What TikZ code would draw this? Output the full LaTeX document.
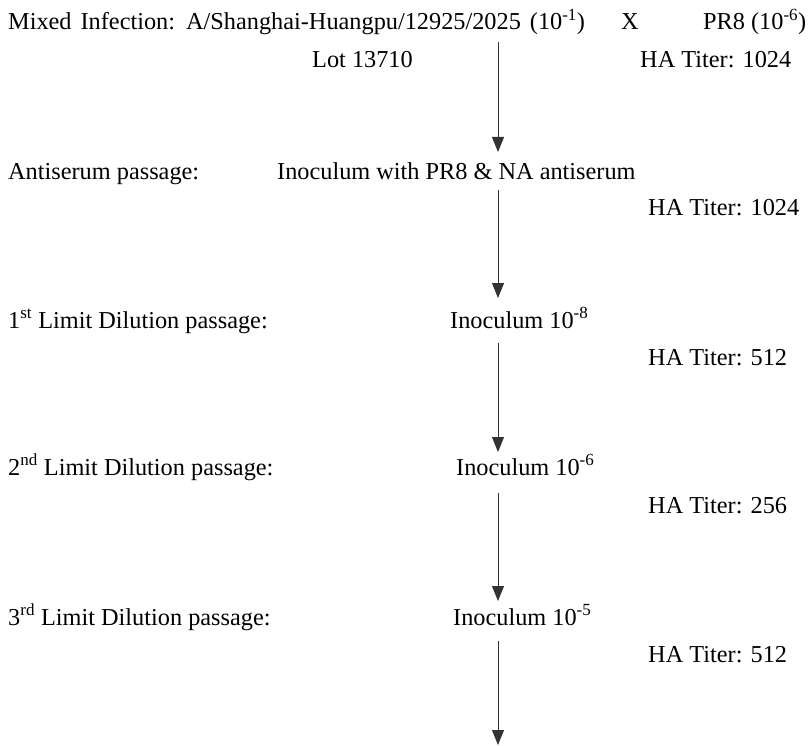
\documentclass[tikz,border=0pt]{standalone}
\usepackage{fontspec}
\setmainfont{Liberation Serif}
\usetikzlibrary{arrows.meta}
\begin{document}
\begin{tikzpicture}[x=1pt,y=-1pt,
  lbl/.style={anchor=base west,inner sep=0pt,font=\fontsize{24.3}{28}\selectfont},
  flow/.style={draw=black!80,line width=0.9pt,-{Triangle[length=15pt,width=12pt]}}]
\useasboundingbox (0,0) rectangle (808,746);
% top rows
\node[lbl] (title) at (8,30) {\spaceskip=9pt plus 1pt\relax Mixed Infection: A/Shanghai-Huangpu/12925/2025 (10\textsuperscript{-1})};
\node[lbl] (cross) at (621,30) {X};
\node[lbl] (pr8) at (703,30) {PR8 (10\textsuperscript{-6})};
\node[lbl] (lot) at (312,68) {Lot 13710};
\node[lbl] (ha1) at (640,68) {HA Titer: 1024};
% antiserum
\node[lbl] (antilbl) at (8,180) {Antiserum passage:};
\node[lbl] (anti) at (277,180) {Inoculum with PR8 \& NA antiserum};
\node[lbl] (ha2) at (648,215) {HA Titer: 1024};
% 1st
\node[lbl] (l1lbl) at (8,328) {1\textsuperscript{st} Limit Dilution passage:};
\node[lbl] (in1) at (450,328) {Inoculum 10\textsuperscript{-8}};
\node[lbl] (ha3) at (648,365) {HA Titer: 512};
% 2nd
\node[lbl] (l2lbl) at (8,475) {2\textsuperscript{nd} Limit Dilution passage:};
\node[lbl] (in2) at (456,475) {Inoculum 10\textsuperscript{-6}};
\node[lbl] (ha4) at (648,513) {HA Titer: 256};
% 3rd
\node[lbl] (l3lbl) at (8,625) {3\textsuperscript{rd} Limit Dilution passage:};
\node[lbl] (in3) at (453,625) {Inoculum 10\textsuperscript{-5}};
\node[lbl] (ha5) at (648,662) {HA Titer: 512};
% arrow end points
\coordinate (a0s) at (498,42);  \coordinate (a0e) at (498,152);
\coordinate (a1s) at (498,190); \coordinate (a1e) at (498,298);
\coordinate (a2s) at (498,343); \coordinate (a2e) at (498,452);
\coordinate (a3s) at (498,493); \coordinate (a3e) at (498,601);
\coordinate (a4s) at (498,641); \coordinate (a4e) at (498,745);
\draw[flow] (a0s) -- (a0e);
\draw[flow] (a1s) -- (a1e);
\draw[flow] (a2s) -- (a2e);
\draw[flow] (a3s) -- (a3e);
\draw[flow] (a4s) -- (a4e);
\end{tikzpicture}
\end{document}
